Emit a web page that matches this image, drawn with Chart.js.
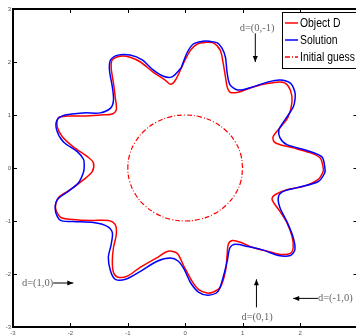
<!DOCTYPE html>
<html lang="en">
  <head>
    <meta charset="UTF-8" />
    <title>Object D - reconstruction</title>
    <style>
      html,
      body {
        margin: 0;
        padding: 0;
        background: #fff;
        overflow: hidden;
      }
      .wrap {
        width: 372px;
        height: 336px;
      }
    </style>
  </head>
  <body>
    <div class="wrap"><canvas id="myChart" width="372" height="336"></canvas></div>
    <script src="https://cdn.jsdelivr.net/npm/chart.js"></script>
    <script>
      // boundary of the true object (x, y)
      const objectD = [
        [-0.03, 1.98], [0.09, 2.22], [0.21, 2.34], [0.35, 2.37], [0.49, 2.36], [0.61, 2.22],
        [0.66, 1.98], [0.7, 1.72], [0.73, 1.53], [0.78, 1.43], [0.92, 1.43], [1.13, 1.51],
        [1.36, 1.58], [1.6, 1.62], [1.74, 1.6], [1.83, 1.47], [1.86, 1.25], [1.79, 0.96],
        [1.65, 0.76], [1.53, 0.59], [1.55, 0.49], [1.65, 0.44], [1.88, 0.38], [2.17, 0.29],
        [2.35, 0.19], [2.4, 0.02], [2.4, -0.07], [2.31, -0.22], [2.05, -0.35], [1.77, -0.41],
        [1.57, -0.5], [1.51, -0.58], [1.55, -0.67], [1.65, -0.82], [1.77, -1.03], [1.86, -1.29],
        [1.88, -1.5], [1.83, -1.61], [1.65, -1.63], [1.43, -1.57], [1.18, -1.5], [0.96, -1.4],
        [0.82, -1.37], [0.75, -1.44], [0.73, -1.63], [0.7, -1.95], [0.61, -2.25], [0.49, -2.34],
        [0.38, -2.36], [0.23, -2.29], [0.12, -2.14], [-0.03, -1.84], [-0.14, -1.61], [-0.3, -1.57],
        [-0.49, -1.69], [-0.78, -1.87], [-1.01, -2.04], [-1.17, -2.06], [-1.25, -1.97], [-1.27, -1.76],
        [-1.25, -1.5], [-1.2, -1.25], [-1.22, -1.07], [-1.34, -0.99], [-1.65, -0.99], [-1.95, -0.97],
        [-2.17, -0.93], [-2.26, -0.75], [-2.21, -0.56], [-2.0, -0.41], [-1.77, -0.22], [-1.62, -0.07],
        [-1.6, 0.1], [-1.7, 0.21], [-1.95, 0.4], [-2.14, 0.59], [-2.23, 0.78], [-2.21, 0.95],
        [-2.05, 0.98], [-1.77, 0.98], [-1.48, 1.0], [-1.27, 1.02], [-1.2, 1.1], [-1.22, 1.34],
        [-1.25, 1.6], [-1.29, 1.89], [-1.27, 2.04], [-1.13, 2.11], [-0.96, 2.09], [-0.78, 2.0],
        [-0.56, 1.81], [-0.35, 1.66], [-0.26, 1.58], [-0.17, 1.66], [-0.03, 1.98]
      ];

      // reconstructed boundary (blue)
      const solution = [
        [-0.07, 1.89], [0.03, 2.17], [0.14, 2.34], [0.3, 2.39], [0.43, 2.39], [0.56, 2.36],
        [0.64, 2.26], [0.7, 2.09], [0.73, 1.79], [0.78, 1.57], [0.92, 1.47], [1.17, 1.53],
        [1.43, 1.62], [1.65, 1.66], [1.83, 1.6], [1.91, 1.43], [1.91, 1.28], [1.88, 1.15],
        [1.7, 0.85], [1.63, 0.72], [1.65, 0.57], [1.77, 0.44], [2.12, 0.33], [2.38, 0.21],
        [2.43, 0.02], [2.43, -0.09], [2.31, -0.26], [1.95, -0.37], [1.69, -0.45], [1.62, -0.56],
        [1.65, -0.75], [1.77, -1.01], [1.88, -1.31], [1.91, -1.54], [1.83, -1.65], [1.62, -1.65],
        [1.36, -1.55], [1.08, -1.48], [0.87, -1.44], [0.78, -1.5], [0.73, -1.76], [0.66, -2.06],
        [0.57, -2.33], [0.4, -2.4], [0.23, -2.34], [0.09, -2.16], [-0.02, -1.91], [-0.12, -1.76],
        [-0.26, -1.7], [-0.49, -1.76], [-0.78, -1.95], [-1.04, -2.1], [-1.22, -2.1], [-1.3, -1.95],
        [-1.34, -1.69], [-1.29, -1.44], [-1.27, -1.22], [-1.36, -1.1], [-1.6, -1.03], [-1.95, -1.01],
        [-2.17, -0.99], [-2.26, -0.82], [-2.23, -0.6], [-2.05, -0.45], [-1.86, -0.28], [-1.77, -0.07],
        [-1.76, 0.04], [-1.77, 0.16], [-1.88, 0.31], [-2.12, 0.49], [-2.24, 0.72], [-2.23, 0.91],
        [-2.09, 1.0], [-1.77, 1.04], [-1.48, 1.04], [-1.3, 1.13], [-1.25, 1.28], [-1.27, 1.53],
        [-1.32, 1.85], [-1.3, 2.04], [-1.17, 2.13], [-0.96, 2.13], [-0.75, 2.04], [-0.56, 1.85],
        [-0.38, 1.73], [-0.23, 1.72], [-0.07, 1.89]
      ];

      // initial guess: the unit circle
      const initialGuess = [
        [1, 0], [0.966, 0.259], [0.866, 0.5], [0.707, 0.707], [0.5, 0.866], [0.259, 0.966],
        [0, 1], [-0.259, 0.966], [-0.5, 0.866], [-0.707, 0.707], [-0.866, 0.5], [-0.966, 0.259],
        [-1, 0], [-0.966, -0.259], [-0.866, -0.5], [-0.707, -0.707], [-0.5, -0.866], [-0.259, -0.966],
        [0, -1], [0.259, -0.966], [0.5, -0.866], [0.707, -0.707], [0.866, -0.5], [0.966, -0.259],
        [1, 0]
      ];

      const xTicks = [-3, -2, -1, 0, 1, 2, 3];
      const yTicks = [-3, -2, -1, 0, 1, 2, 3];

      // incident directions: label, arrow start, arrow end (data coords)
      const directions = [
        { label: "d=(0,-1)", text: [1.25, 2.64], align: "center", from: [1.22, 2.54], to: [1.22, 2.0] },
        { label: "d=(1,0)", text: [-2.3, -2.17], align: "right", from: [-2.3, -2.17], to: [-1.95, -2.17] },
        { label: "d=(0,1)", text: [1.25, -2.81], align: "center", from: [1.24, -2.63], to: [1.24, -2.1] },
        { label: "d=(-1,0)", text: [2.31, -2.46], align: "left", from: [2.31, -2.46], to: [1.88, -2.46] }
      ];

      const toPoints = (arr) => arr.map((p) => ({ x: p[0], y: p[1] }));

      const frame = {
        id: "frame",
        afterDatasetsDraw(chart) {
          const { ctx, chartArea: a, scales } = chart;
          ctx.save();
          ctx.strokeStyle = "#000";
          ctx.lineWidth = 1;
          xTicks.forEach((v) => {
            const px = Math.round(scales.x.getPixelForValue(v)) + 0.5;
            ctx.beginPath();
            ctx.moveTo(px, a.top);
            ctx.lineTo(px, a.top + 4);
            ctx.moveTo(px, a.bottom);
            ctx.lineTo(px, a.bottom - 4);
            ctx.stroke();
          });
          yTicks.forEach((v) => {
            const py = Math.round(scales.y.getPixelForValue(v)) + 0.5;
            ctx.beginPath();
            ctx.moveTo(a.left, py);
            ctx.lineTo(a.left + 4, py);
            ctx.moveTo(a.right, py);
            ctx.lineTo(a.right - 4, py);
            ctx.stroke();
          });
          ctx.lineWidth = 2;
          ctx.strokeRect(a.left, a.top, a.right - a.left, a.bottom - a.top);

          // arrows and their labels
          ctx.font = '10.5px "Liberation Serif", "DejaVu Serif", serif';
          ctx.textBaseline = "middle";
          directions.forEach((d) => {
            const x1 = scales.x.getPixelForValue(d.from[0]);
            const y1 = scales.y.getPixelForValue(d.from[1]);
            const x2 = scales.x.getPixelForValue(d.to[0]);
            const y2 = scales.y.getPixelForValue(d.to[1]);
            const ang = Math.atan2(y2 - y1, x2 - x1);
            ctx.strokeStyle = "#000";
            ctx.fillStyle = "#000";
            ctx.lineWidth = 1;
            ctx.beginPath();
            ctx.moveTo(x1, y1);
            ctx.lineTo(x2, y2);
            ctx.stroke();
            ctx.beginPath();
            ctx.moveTo(x2, y2);
            ctx.lineTo(x2 - 6 * Math.cos(ang) + 2.5 * Math.sin(ang), y2 - 6 * Math.sin(ang) - 2.5 * Math.cos(ang));
            ctx.lineTo(x2 - 6 * Math.cos(ang) - 2.5 * Math.sin(ang), y2 - 6 * Math.sin(ang) + 2.5 * Math.cos(ang));
            ctx.closePath();
            ctx.fill();
            ctx.fillStyle = "#666";
            ctx.textAlign = d.align;
            ctx.fillText(d.label, scales.x.getPixelForValue(d.text[0]), scales.y.getPixelForValue(d.text[1]));
          });

          // legend box
          ctx.fillStyle = "#fff";
          ctx.fillRect(282, 12, 90, 56);
          ctx.strokeStyle = "#000";
          ctx.lineWidth = 1;
          ctx.strokeRect(282.5, 12.5, 90, 56);
          ctx.font = '13px "Liberation Sans", Arial, sans-serif';
          ctx.textAlign = "left";
          chart.data.datasets.forEach((ds, i) => {
            const y = 23 + i * 17;
            ctx.strokeStyle = ds.borderColor;
            ctx.lineWidth = 1.5;
            ctx.setLineDash(ds.borderDash || []);
            ctx.beginPath();
            ctx.moveTo(285, y);
            ctx.lineTo(298, y);
            ctx.stroke();
            ctx.setLineDash([]);
            ctx.fillStyle = "#000";
            // condensed lettering like the original legend
            ctx.save();
            ctx.translate(300, y);
            ctx.scale(0.8, 1);
            ctx.fillText(ds.label, 0, 0);
            ctx.restore();
          });
          ctx.restore();
        }
      };

      const config = {
        type: "scatter",
        data: {
          datasets: [
            {
              label: "Object D",
              data: toPoints(objectD),
              showLine: true,
              borderColor: "#ff0000",
              borderWidth: 1.5,
              pointRadius: 0,
              tension: 0.3,
              order: 2
            },
            {
              label: "Solution",
              data: toPoints(solution),
              showLine: true,
              borderColor: "#0000ff",
              borderWidth: 1.5,
              pointRadius: 0,
              tension: 0.3,
              order: 1
            },
            {
              label: "Initial guess",
              data: toPoints(initialGuess),
              showLine: true,
              borderColor: "#ff0000",
              borderWidth: 1.2,
              borderDash: [5, 2, 1, 2],
              pointRadius: 0,
              tension: 0.4,
              order: 3
            }
          ]
        },
        options: {
          responsive: false,
          animation: false,
          layout: { padding: { top: 9, right: 14.5, left: 0, bottom: 0 } },
          plugins: { legend: { display: false }, tooltip: { enabled: false } },
          scales: {
            x: {
              type: "linear",
              min: -3,
              max: 3,
              afterFit: (s) => { s.height = 9; },
              afterBuildTicks: (s) => { s.ticks = xTicks.map((v) => ({ value: v })); },
              grid: { display: false, drawTicks: false },
              border: { display: false },
              ticks: { color: "#555", font: { size: 6 }, padding: 3, maxRotation: 0 }
            },
            y: {
              type: "linear",
              min: -3,
              max: 3,
              afterFit: (s) => { s.width = 13; },
              afterBuildTicks: (s) => { s.ticks = yTicks.map((v) => ({ value: v })); },
              grid: { display: false, drawTicks: false },
              border: { display: false },
              ticks: { color: "#555", font: { size: 6 }, padding: 2 }
            }
          }
        },
        plugins: [frame]
      };

      const myChart = new Chart(document.getElementById("myChart"), config);
    </script>
  </body>
</html>
